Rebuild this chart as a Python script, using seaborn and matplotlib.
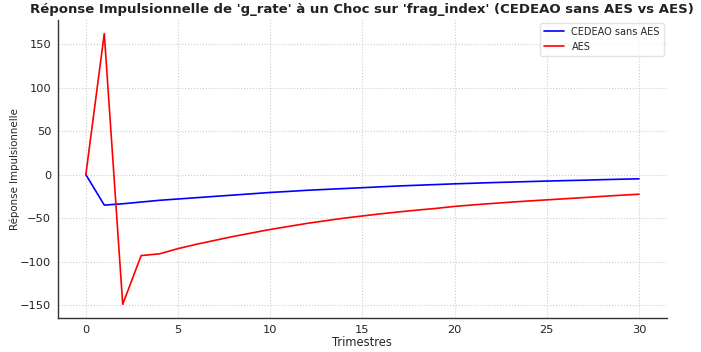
import matplotlib
matplotlib.use("Agg")
import matplotlib.pyplot as plt
import seaborn as sns
import pandas as pd

trimestres = list(range(31))
cedeao_sans_aes = [0, -35, -33.5, -31.5, -29.5, -28, -26.5, -25, -23.5, -22, -20.5,
                   -19.3, -18, -17, -16, -15, -14, -13, -12.2, -11.4, -10.6,
                   -9.9, -9.2, -8.6, -8, -7.4, -6.9, -6.4, -5.8, -5.3, -4.8]
aes = [0, 162, -149, -93, -91, -85, -80, -75.5, -71, -67, -63,
       -59.5, -56, -53, -50, -47.5, -45, -42.8, -40.7, -38.8, -36.5,
       -34.8, -33.2, -31.7, -30.3, -29, -27.7, -26.4, -25, -23.7, -22.5]

df = pd.DataFrame({
    "Trimestres": trimestres * 2,
    "val": cedeao_sans_aes + aes,
    "serie": ["CEDEAO sans AES"] * len(trimestres) + ["AES"] * len(trimestres),
})

sns.set_style("white")
fig, ax = plt.subplots(figsize=(7.01, 3.52), dpi=100)
fig.subplots_adjust(left=0.083, right=0.951, top=0.943, bottom=0.097)

sns.lineplot(data=df, x="Trimestres", y="val", hue="serie",
             palette={"CEDEAO sans AES": "blue", "AES": "red"},
             linewidth=1.2, ax=ax)

ax.grid(True, linestyle=":", color="#cccccc", linewidth=0.8)
for s in ["top", "right"]:
    ax.spines[s].set_visible(False)
for s in ["left", "bottom"]:
    ax.spines[s].set_color("#333333")
    ax.spines[s].set_linewidth(1.0)
ax.tick_params(axis="both", labelsize=8.2, length=3, pad=2, colors="#222222")
ax.set_xticks([0, 5, 10, 15, 20, 25, 30])
ax.set_yticks([-150, -100, -50, 0, 50, 100, 150])
ax.set_xlabel("Trimestres", fontsize=8.3, labelpad=1)
ax.set_ylabel("Réponse Impulsionnelle", fontsize=7.4)
ax.yaxis.set_label_coords(-0.062, 0.5)
ax.set_title("Réponse Impulsionnelle de 'g_rate' à un Choc sur 'frag_index' (CEDEAO sans AES vs AES)",
             fontsize=9.5, fontweight="bold", color="#222222", pad=5)
leg = ax.legend(loc="upper right", fontsize=7, frameon=True, borderaxespad=0.3)
leg.get_frame().set_edgecolor("#dddddd")

fig.savefig("out.png", dpi=100)
